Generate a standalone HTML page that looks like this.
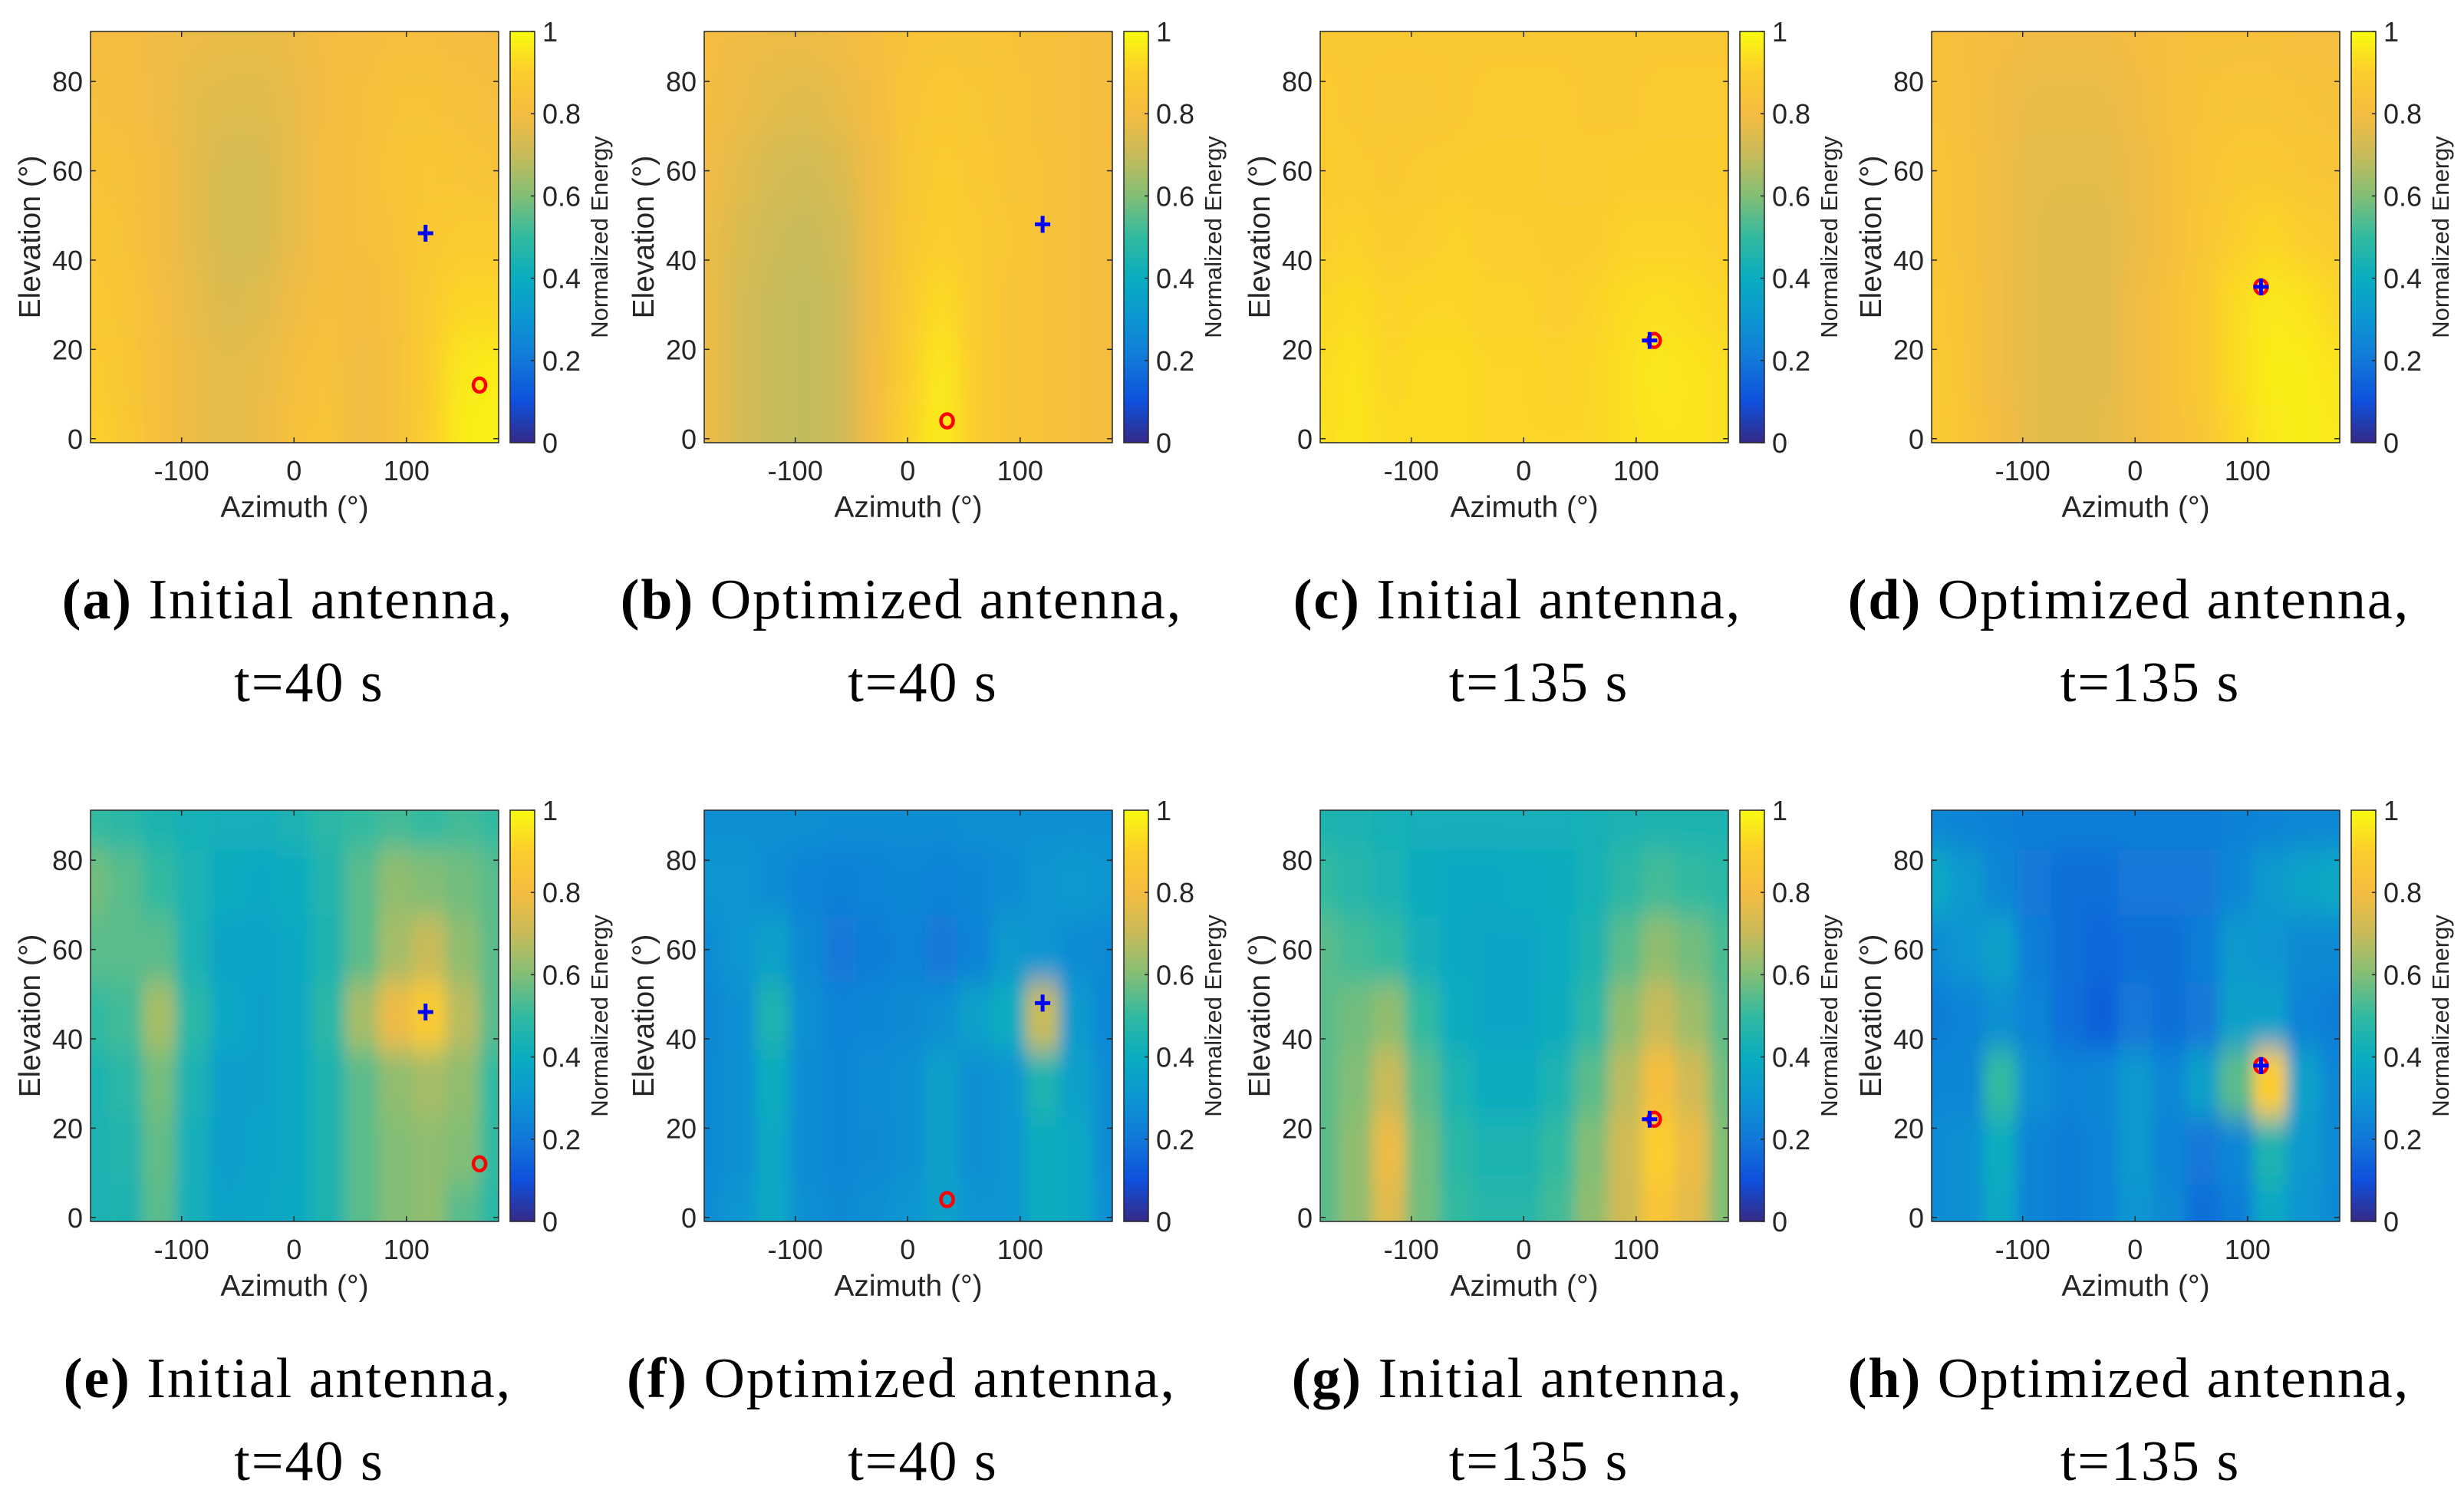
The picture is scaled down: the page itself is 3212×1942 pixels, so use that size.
<!DOCTYPE html>
<html><head><meta charset="utf-8">
<style>
html,body{margin:0;padding:0;background:#fff;}
svg{display:block;}
text{font-family:"Liberation Sans",sans-serif;fill:#262626;}
.cap{font-family:"Liberation Serif",serif;fill:#000;font-size:74px;letter-spacing:2px;}
</style></head>
<body>
<svg id="fig" width="3212" height="1942" viewBox="0 0 3212 1942" xmlns="http://www.w3.org/2000/svg">
<defs>
<filter id="sm" x="-10%" y="-10%" width="120%" height="120%"><feGaussianBlur stdDeviation="16 26"/></filter>
<filter id="sm2" x="-10%" y="-10%" width="120%" height="120%"><feGaussianBlur stdDeviation="9 18"/></filter>
<linearGradient id="parula" x1="0" y1="1" x2="0" y2="0">
<stop offset="0" stop-color="rgb(53,42,135)"/>
<stop offset="0.1" stop-color="rgb(15,80,220)"/>
<stop offset="0.2" stop-color="rgb(18,120,216)"/>
<stop offset="0.3" stop-color="rgb(12,150,210)"/>
<stop offset="0.4" stop-color="rgb(10,172,192)"/>
<stop offset="0.5" stop-color="rgb(50,186,160)"/>
<stop offset="0.6" stop-color="rgb(130,190,118)"/>
<stop offset="0.7" stop-color="rgb(200,187,90)"/>
<stop offset="0.8" stop-color="rgb(245,188,65)"/>
<stop offset="0.9" stop-color="rgb(252,205,45)"/>
<stop offset="1" stop-color="rgb(249,251,14)"/>
</linearGradient>
</defs>
</svg>
<script>
// shared axes data
const azimuths = [-180,-150,-120,-90,-60,-30,0,30,60,90,120,150,180];
const elevations = [90,75,60,45,30,15,0]; // row order (top to bottom)
const xTicks = [-100,0,100];
const yTicks = [0,20,40,60,80];
const cTicks = [0,0.2,0.4,0.6,0.8,1];
const cTickLabels = ["0","0.2","0.4","0.6","0.8","1"];
const captionLetters = ["(a)","(b)","(c)","(d)","(e)","(f)","(g)","(h)"];
const captionTexts = ["Initial antenna,","Optimized antenna,","Initial antenna,","Optimized antenna,","Initial antenna,","Optimized antenna,","Initial antenna,","Optimized antenna,"];
const captionTimes = ["t=40 s","t=40 s","t=135 s","t=135 s","t=40 s","t=40 s","t=135 s","t=135 s"];
const plusAz = [117,120,112,112,117,120,112,112];
const plusEl = [46,48,22,34,46,48,22,34];
const circAz = [165,35,116,112,165,35,116,112];
const circEl = [12,4,22,34,12,4,22,34];

const energyA = [
[.80,.80,.79,.78,.77,.77,.78,.80,.81,.82,.82,.81,.80],
[.82,.81,.79,.76,.75,.75,.77,.80,.82,.84,.84,.83,.82],
[.84,.83,.80,.76,.73,.73,.77,.81,.82,.85,.86,.85,.84],
[.86,.84,.80,.76,.73,.73,.77,.81,.82,.84,.87,.88,.88],
[.87,.85,.81,.77,.74,.75,.79,.82,.80,.83,.88,.92,.92],
[.89,.86,.82,.78,.76,.77,.82,.84,.79,.83,.89,.96,.97],
[.91,.87,.82,.78,.76,.78,.83,.85,.79,.83,.90,.97,.98]];
const energyB = [
[.80,.79,.78,.78,.79,.81,.84,.85,.85,.84,.83,.82,.81],
[.80,.78,.76,.75,.77,.80,.85,.87,.86,.85,.83,.82,.81],
[.79,.76,.73,.72,.74,.79,.86,.89,.87,.85,.84,.82,.80],
[.78,.74,.71,.70,.72,.79,.87,.90,.88,.86,.84,.82,.80],
[.78,.73,.70,.69,.71,.79,.88,.93,.88,.85,.84,.82,.80],
[.78,.73,.70,.69,.71,.80,.90,.96,.89,.85,.84,.82,.80],
[.78,.73,.70,.69,.71,.80,.91,.97,.89,.85,.84,.82,.80]];
const energyC = [
[.87,.87,.87,.87,.87,.87,.87,.87,.87,.87,.87,.87,.87],
[.88,.87,.86,.86,.87,.88,.88,.88,.87,.87,.88,.88,.88],
[.89,.88,.87,.88,.89,.89,.89,.88,.88,.89,.89,.89,.89],
[.90,.91,.89,.90,.91,.90,.90,.89,.89,.91,.91,.91,.90],
[.92,.93,.91,.92,.92,.91,.91,.90,.91,.93,.94,.93,.92],
[.93,.95,.92,.93,.93,.92,.92,.91,.92,.94,.96,.95,.94],
[.94,.95,.93,.93,.93,.92,.92,.92,.92,.94,.95,.95,.94]];
const energyD = [
[.83,.82,.80,.79,.79,.79,.80,.82,.83,.83,.83,.82,.82],
[.84,.82,.79,.77,.77,.77,.79,.82,.84,.85,.85,.84,.83],
[.85,.83,.79,.76,.76,.76,.78,.82,.85,.87,.87,.86,.85],
[.86,.83,.79,.76,.75,.75,.78,.82,.86,.90,.92,.90,.88],
[.87,.84,.79,.76,.75,.75,.79,.83,.87,.93,.96,.95,.92],
[.88,.84,.79,.76,.75,.75,.79,.83,.87,.93,.97,.97,.95],
[.89,.85,.80,.76,.75,.76,.79,.83,.86,.92,.96,.97,.96]];
const energyE = [
[.50,.48,.45,.43,.42,.42,.44,.48,.50,.52,.50,.52,.50],
[.58,.55,.50,.44,.40,.38,.40,.46,.55,.62,.60,.58,.55],
[.55,.55,.55,.44,.36,.36,.38,.45,.55,.65,.70,.62,.55],
[.50,.52,.65,.48,.38,.35,.38,.48,.65,.78,.88,.68,.55],
[.45,.48,.58,.44,.34,.35,.38,.45,.55,.62,.65,.62,.50],
[.44,.46,.56,.42,.34,.36,.38,.45,.55,.60,.62,.60,.50],
[.44,.45,.55,.42,.36,.37,.38,.45,.55,.60,.62,.55,.48]];
const energyF = [
[.28,.28,.28,.28,.27,.27,.27,.27,.28,.28,.28,.28,.28],
[.30,.30,.27,.24,.23,.24,.25,.24,.25,.27,.30,.32,.30],
[.27,.30,.35,.26,.20,.22,.24,.20,.24,.32,.30,.27,.26],
[.25,.28,.45,.28,.24,.25,.26,.28,.35,.40,.70,.32,.25],
[.26,.28,.40,.27,.25,.27,.28,.35,.28,.30,.45,.35,.27],
[.26,.28,.38,.27,.25,.26,.28,.35,.28,.30,.40,.38,.27],
[.27,.30,.38,.28,.26,.28,.30,.35,.30,.30,.40,.38,.28]];
const energyG = [
[.45,.44,.43,.42,.42,.42,.42,.42,.43,.44,.45,.45,.45],
[.50,.47,.44,.40,.38,.38,.39,.40,.43,.48,.52,.50,.48],
[.55,.52,.50,.42,.38,.37,.37,.39,.45,.55,.62,.58,.53],
[.55,.58,.62,.50,.40,.37,.37,.40,.48,.62,.70,.64,.55],
[.55,.60,.70,.55,.45,.40,.40,.45,.55,.68,.82,.72,.58],
[.55,.62,.78,.58,.48,.45,.45,.50,.60,.72,.90,.78,.60],
[.55,.62,.75,.58,.50,.47,.47,.52,.62,.72,.85,.76,.60]];
const energyH = [
[.25,.24,.23,.22,.22,.22,.22,.22,.22,.23,.24,.25,.25],
[.38,.32,.25,.20,.18,.18,.20,.20,.20,.25,.32,.36,.38],
[.27,.30,.35,.22,.18,.16,.18,.18,.22,.32,.30,.26,.26],
[.22,.24,.28,.24,.18,.14,.20,.18,.20,.35,.35,.24,.22],
[.25,.25,.50,.28,.24,.25,.32,.25,.35,.55,.90,.35,.25],
[.27,.28,.40,.24,.22,.24,.32,.24,.20,.25,.45,.32,.26],
[.27,.28,.38,.24,.22,.24,.30,.26,.18,.22,.38,.30,.26]];
const panels = [energyA,energyB,energyC,energyD,energyE,energyF,energyG,energyH];

const cmapStops = [[0,53,42,135],[0.1,15,80,220],[0.2,18,120,216],[0.3,12,150,210],[0.4,10,172,192],[0.5,50,186,160],[0.6,130,190,118],[0.7,200,187,90],[0.8,245,188,65],[0.9,252,205,45],[1,249,251,14]];
function cmap(v){
  v=Math.max(0,Math.min(1,v));
  for(let i=1;i<cmapStops.length;i++){
    if(v<=cmapStops[i][0]){
      const a=cmapStops[i-1],b=cmapStops[i],t=(v-a[0])/(b[0]-a[0]);
      return `rgb(${Math.round(a[1]+(b[1]-a[1])*t)},${Math.round(a[2]+(b[2]-a[2])*t)},${Math.round(a[3]+(b[3]-a[3])*t)})`;
    }
  }
  return 'rgb(249,251,14)';
}
const NS='http://www.w3.org/2000/svg';
const svg=document.getElementById('fig');
function mk(tag,attrs,parent){const e=document.createElementNS(NS,tag);for(const k in attrs)e.setAttribute(k,attrs[k]);(parent||svg).appendChild(e);return e;}

const colOff=[0,800,1603,2400];
const rowOff=[0,1015];
const PL=118,PR=650,PT=41,PB=577;
const xMin=-181,xMax=182,yMin=-0.9,yMax=91.2;

panels.forEach((data,p)=>{
  const ox=colOff[p%4], oy=rowOff[Math.floor(p/4)];
  const L=ox+PL,R=ox+PR,T=oy+PT,B=oy+PB;
  const xs=a=>L+(a-xMin)/(xMax-xMin)*(R-L);
  const ys=e=>B-(e-yMin)/(yMax-yMin)*(B-T);
  const g=mk('g',{});
  
  
  const clip=mk('clipPath',{id:'clip'+p},g);
  mk('rect',{x:L,y:T,width:R-L,height:B-T},clip);
  const hg=mk('g',{'clip-path':`url(#clip${p})`},g);
  
  
  const inner=mk('g',{filter:p>=4?'url(#sm2)':'url(#sm)'},hg);
  const dAz=30,dEl=15;
  data.forEach((row,r)=>{
    row.forEach((v,c)=>{
      const az=azimuths[c],el=elevations[r];
      let x0=xs(az-dAz/2),x1=xs(az+dAz/2),y0=ys(el+dEl/2),y1=ys(el-dEl/2);
      if(c===0)x0-=90; if(c===row.length-1)x1+=90;
      if(r===0)y0-=90; if(r===data.length-1)y1+=90;
      const cell=mk('rect',{x:x0,y:y0,width:x1-x0+0.5,height:y1-y0+0.5,fill:cmap(v)},inner);
      
      
    });
  });
  const box=mk('rect',{x:L,y:T,width:R-L,height:B-T,fill:'none',stroke:'#262626','stroke-width':1.5},g);
  
  
  xTicks.forEach(t=>{
    const x=xs(t);
    mk('line',{x1:x,y1:B,x2:x,y2:B-7,stroke:'#262626','stroke-width':1.5},g);
    mk('line',{x1:x,y1:T,x2:x,y2:T+7,stroke:'#262626','stroke-width':1.5},g);
    const tx=mk('text',{x:x,y:oy+626,'font-size':36,'text-anchor':'middle'},g);
    tx.textContent=String(t);
    
    
  });
  yTicks.forEach(t=>{
    const y=ys(t);
    mk('line',{x1:L,y1:y,x2:L+7,y2:y,stroke:'#262626','stroke-width':1.5},g);
    mk('line',{x1:R,y1:y,x2:R-7,y2:y,stroke:'#262626','stroke-width':1.5},g);
    const tx=mk('text',{x:L-10,y:y+13,'font-size':36,'text-anchor':'end'},g);
    tx.textContent=String(t);
    
    
  });
  const xl=mk('text',{x:(L+R)/2,y:oy+674,'font-size':39,'text-anchor':'middle'},g);
  xl.textContent='Azimuth (°)';
  
  
  const yl=mk('text',{x:0,y:0,'font-size':39,'text-anchor':'middle',transform:`translate(${ox+52},${(T+B)/2}) rotate(-90)`},g);
  yl.textContent='Elevation (°)';
  
  
  const CL=ox+665,CR=ox+697;
  const cb=mk('rect',{x:CL,y:T,width:CR-CL,height:B-T,fill:'url(#parula)',stroke:'#262626','stroke-width':1.5},g);
  
  
  cTicks.forEach((t,i)=>{
    const y=B-t*(B-T);
    mk('line',{x1:CR,y1:y,x2:CR-5,y2:y,stroke:'#262626','stroke-width':1.5},g);
    const tx=mk('text',{x:CR+10,y:y+13,'font-size':36},g);
    tx.textContent=cTickLabels[i];
    
    
  });
  const cl=mk('text',{x:0,y:0,'font-size':31,'text-anchor':'middle',transform:`translate(${ox+792},${(T+B)/2}) rotate(-90)`},g);
  cl.textContent='Normalized Energy';
  
  
  const cx=xs(circAz[p]),cy=ys(circEl[p]);
  const circ=mk('ellipse',{cx:cx,cy:cy,rx:8,ry:9,fill:'none',stroke:'#ff0000','stroke-width':4.5},g);
  
  
  const px=xs(plusAz[p]),py=ys(plusEl[p]);
  const pl=mk('path',{d:`M${px-10},${py}H${px+10}M${px},${py-11}V${py+11}`,stroke:'#0000ff','stroke-width':5,fill:'none'},g);
  
  
  const c1=mk('text',{x:ox+375,y:oy+806,'text-anchor':'middle','class':'cap'},g);
  
  
  const b=mk('tspan',{'font-weight':'bold'},c1); b.textContent=captionLetters[p];
  const rs=mk('tspan',{},c1); rs.textContent=' '+captionTexts[p];
  const c2=mk('text',{x:ox+403,y:oy+914,'text-anchor':'middle','class':'cap'},g);
  c2.textContent=captionTimes[p];
  
  
});
</script>
</body></html>
